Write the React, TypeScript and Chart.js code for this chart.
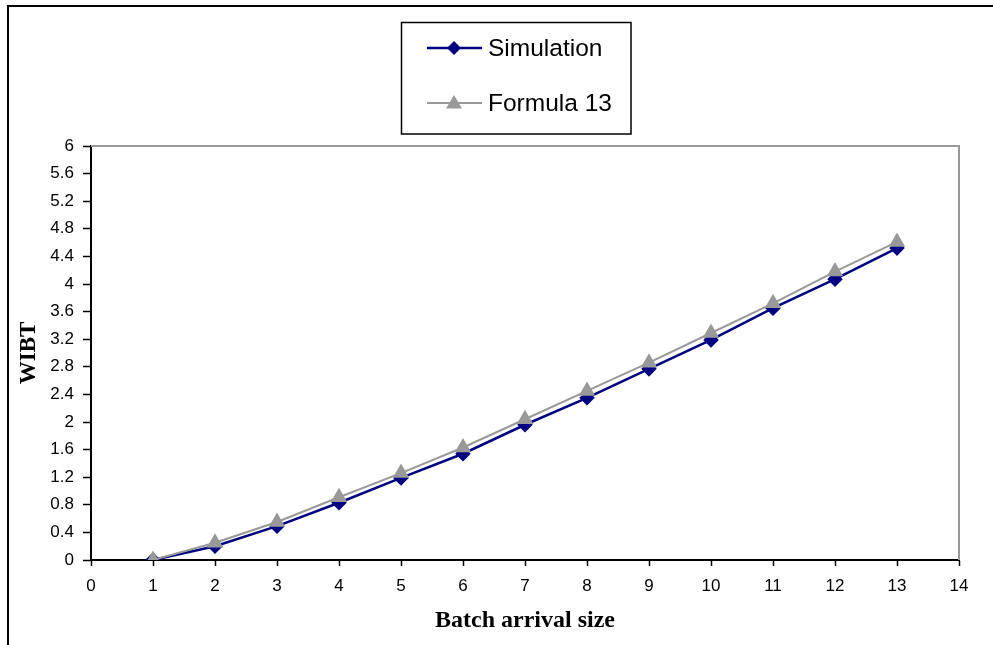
import React, { useEffect, useRef } from "react";
import { Chart, registerables } from "chart.js";

Chart.register(...registerables);

const batchSizes = [1, 2, 3, 4, 5, 6, 7, 8, 9, 10, 11, 12, 13];
const simulation = [0, 0.2, 0.49, 0.83, 1.19, 1.54, 1.96, 2.35, 2.77, 3.19, 3.65, 4.07, 4.52];
const formula13 = [0, 0.25, 0.55, 0.91, 1.26, 1.63, 2.04, 2.45, 2.86, 3.29, 3.72, 4.18, 4.61];
const seriesNames = ["Simulation", "Formula 13"];
const xTitle = "Batch arrival size";
const yTitle = "WIBT";

const NAVY = "#000080";
const GRAY = "#999999";

const framePlugin = {
  id: "framePlugin",
  afterDraw(chart: any) {
    const { ctx, chartArea } = chart;
    ctx.save();
    // outer frame (extends beyond the picture)
    ctx.strokeStyle = "#000";
    ctx.lineWidth = 2;
    ctx.beginPath();
    ctx.moveTo(8, 700);
    ctx.lineTo(8, 6);
    ctx.lineTo(1100, 6);
    ctx.stroke();
    // gray top and right plot borders
    ctx.strokeStyle = GRAY;
    ctx.lineWidth = 2;
    ctx.beginPath();
    ctx.moveTo(chartArea.left, chartArea.top);
    ctx.lineTo(chartArea.right, chartArea.top);
    ctx.lineTo(chartArea.right, chartArea.bottom);
    ctx.stroke();
    // legend box
    ctx.strokeStyle = "#000";
    ctx.lineWidth = 1.5;
    ctx.strokeRect(401.5, 22.5, 229.5, 111.5);
    const rows = [48, 103];
    const dsOrder = [1, 0];
    rows.forEach((y, i) => {
      const ds = chart.data.datasets[dsOrder[i]];
      ctx.strokeStyle = ds.borderColor;
      ctx.lineWidth = ds.borderWidth;
      ctx.beginPath();
      ctx.moveTo(427, y);
      ctx.lineTo(482, y);
      ctx.stroke();
      ctx.fillStyle = ds.pointBackgroundColor;
      ctx.beginPath();
      if (ds.pointStyle === "rectRot") {
        const r = 7;
        ctx.moveTo(454, y - r);
        ctx.lineTo(454 + r, y);
        ctx.lineTo(454, y + r);
        ctx.lineTo(454 - r, y);
      } else {
        const r = 8;
        ctx.moveTo(454, y - r);
        ctx.lineTo(454 + r, y + r * 0.7);
        ctx.lineTo(454 - r, y + r * 0.7);
      }
      ctx.closePath();
      ctx.fill();
      ctx.fillStyle = "#000";
      ctx.font = '24.5px "Liberation Sans", Arial, sans-serif';
      ctx.textBaseline = "middle";
      ctx.textAlign = "left";
      ctx.fillText(ds.label, 488, y + 1);
    });
    ctx.restore();
  },
};

export default function App() {
  const ref = useRef<HTMLCanvasElement | null>(null);

  useEffect(() => {
    const canvas = ref.current;
    if (!canvas) return;
    const chart = new Chart(canvas, {
      type: "line",
      data: {
        datasets: [
          {
            label: seriesNames[1],
            data: batchSizes.map((x, i) => ({ x, y: formula13[i] })),
            borderColor: GRAY,
            backgroundColor: GRAY,
            pointBackgroundColor: GRAY,
            pointBorderColor: GRAY,
            pointStyle: "triangle",
            pointRadius: 7.5,
            borderWidth: 2,
            tension: 0,
            order: 0,
          },
          {
            label: seriesNames[0],
            data: batchSizes.map((x, i) => ({ x, y: simulation[i] })),
            borderColor: NAVY,
            backgroundColor: NAVY,
            pointBackgroundColor: NAVY,
            pointBorderColor: NAVY,
            pointStyle: "rectRot",
            pointRadius: 6,
            borderWidth: 2.5,
            tension: 0,
            order: 1,
          },
        ],
      },
      options: {
        animation: false,
        responsive: false,
        devicePixelRatio: 1,
        layout: { padding: { left: 0, top: 146, right: 34, bottom: 0 } },
        plugins: {
          legend: { display: false },
          tooltip: { enabled: false },
        },
        scales: {
          x: {
            type: "linear",
            min: 0,
            max: 14,
            afterFit: (s: any) => {
              s.height = 85;
            },
            ticks: {
              stepSize: 1,
              color: "#000",
              padding: 10,
              font: { family: '"Liberation Sans", Arial, sans-serif', size: 17 },
            },
            grid: {
              drawOnChartArea: false,
              drawTicks: true,
              tickLength: 6,
              tickColor: "#000",
              tickWidth: 1.5,
            },
            border: { color: "#000", width: 2 },
            title: {
              display: true,
              text: xTitle,
              color: "#000",
              font: { family: '"Liberation Serif", "Times New Roman", serif', size: 24, weight: "bold" },
              padding: { top: 0, bottom: 10 },
            },
          },
          y: {
            min: 0,
            max: 6,
            afterFit: (s: any) => {
              s.width = 91;
            },
            ticks: {
              stepSize: 0.4,
              color: "#000",
              padding: 9,
              font: { family: '"Liberation Sans", Arial, sans-serif', size: 17 },
              callback: (v: any) => String(parseFloat(Number(v).toFixed(1))),
            },
            grid: {
              drawOnChartArea: false,
              drawTicks: true,
              tickLength: 8,
              tickColor: "#000",
              tickWidth: 1.5,
            },
            border: { color: "#000", width: 2 },
            title: {
              display: true,
              text: yTitle,
              color: "#000",
              font: { family: '"Liberation Serif", "Times New Roman", serif', size: 23, weight: "bold" },
              padding: { top: 15, bottom: 0 },
            },
          },
        },
      },
      plugins: [framePlugin],
    });
    return () => chart.destroy();
  }, []);

  return (
    <div style={{ position: "fixed", left: 0, top: 0, width: 993, height: 645, background: "#fff" }}>
      <canvas ref={ref} width={993} height={645} style={{ display: "block" }} />
    </div>
  );
}
